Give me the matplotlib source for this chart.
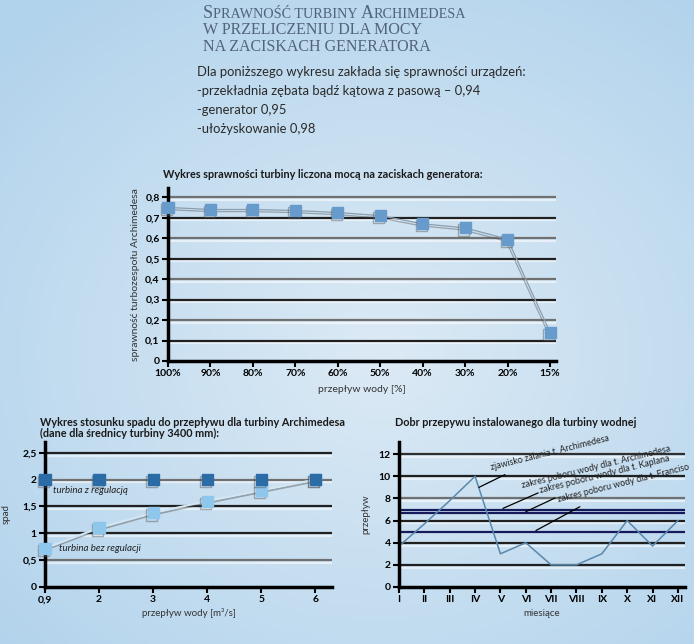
import numpy as np
import matplotlib
matplotlib.use("Agg")
import matplotlib.pyplot as plt
import matplotlib.patheffects as pe
from matplotlib.offsetbox import TextArea, HPacker, AnchoredOffsetbox

# --- dane ---
przeplyw_proc = ["100%", "90%", "80%", "70%", "60%", "50%", "40%", "30%", "20%", "15%"]
sprawnosc = [0.75, 0.74, 0.74, 0.735, 0.725, 0.71, 0.67, 0.65, 0.595, 0.14]
sprawnosc_ticks = [0, 0.1, 0.2, 0.3, 0.4, 0.5, 0.6, 0.7, 0.8]
sprawnosc_labels = ["0", "0,1", "0,2", "0,3", "0,4", "0,5", "0,6", "0,7", "0,8"]

przeplyw_m3 = ["0,9", "2", "3", "4", "5", "6"]
spad_z_regulacja = [2.0, 2.0, 2.0, 2.0, 2.0, 2.0]
spad_bez_regulacji = [0.72, 1.1, 1.38, 1.6, 1.8, 2.0]
spad_ticks = [0, 0.5, 1, 1.5, 2, 2.5]
spad_labels = ["0", "0,5", "1", "1,5", "2", "2,5"]

miesiace = ["I", "II", "III", "IV", "V", "VI", "VII", "VIII", "IX", "X", "XI", "XII"]
przeplyw_mies = [3.7, 5.7, 7.8, 10.0, 3.0, 4.0, 2.0, 2.0, 3.0, 6.0, 3.7, 6.0]
przeplyw_ticks = [0, 2, 4, 6, 8, 10, 12]
zakresy = [7.0, 6.7, 5.0]

SANS = ["Lato", "DejaVu Sans"]
shadow = [pe.SimpleLineShadow(offset=(-1, -1.5), shadow_color="#555555", alpha=0.45), pe.Normal()]
grid_shadow = [pe.SimpleLineShadow(offset=(0, -2), shadow_color="#ffffff", alpha=0.55), pe.Normal()]

fig = plt.figure(figsize=(6.94, 6.44), dpi=100)

# tlo
bg = fig.add_axes([0, 0, 1, 1], zorder=-10)
yy, xx = np.mgrid[0:1:200j, 0:1:200j]
r = np.sqrt(((xx - 0.55) / 0.75) ** 2 + ((yy - 0.55) / 0.7) ** 2)
t = np.clip(r, 0, 1)[..., None]
light = np.array([0xdc, 0xea, 0xf5]) / 255
dark = np.array([0xb2, 0xd3, 0xec]) / 255
bg.imshow(light * (1 - t) + dark * t, aspect="auto", extent=[0, 1, 0, 1])
bg.axis("off")

# tytul (kapitaliki)
def kapitaliki(parts, x, y):
    boxes = [TextArea(s, textprops=dict(size=sz, color="#52647a", family="Liberation Serif"))
             for s, sz in parts]
    pack = HPacker(children=boxes, align="baseline", pad=0, sep=0)
    ab = AnchoredOffsetbox(loc="upper left", child=pack, pad=0, frameon=False,
                           bbox_to_anchor=(x, y), bbox_transform=fig.transFigure, borderpad=0)
    fig.add_artist(ab)

kapitaliki([("S", 13), ("PRAWNOŚĆ TURBINY ", 10.2), ("A", 13), ("RCHIMEDESA", 10.2)], 203 / 694, 1 - 5 / 644)
kapitaliki([("W PRZELICZENIU DLA MOCY", 11.5)], 203 / 694, 1 - 22 / 644)
kapitaliki([("NA ZACISKACH GENERATORA", 11.5)], 203 / 694, 1 - 39 / 644)

opis = ["Dla poniższego wykresu zakłada się sprawności urządzeń:",
        "-przekładnia zębata bądź kątowa z pasową – 0,94",
        "-generator 0,95",
        "-ułożyskowanie 0,98"]
for i, linia in enumerate(opis):
    fig.text(197 / 694, 1 - (72 + 19 * i) / 644, linia, family=SANS, size=9.4,
             color="#2a2a2a", va="center")


def styl_osi(ax):
    ax.set_facecolor("none")
    for s in ["top", "right"]:
        ax.spines[s].set_visible(False)
    for s in ["left", "bottom"]:
        ax.spines[s].set_linewidth(2.5)
        ax.spines[s].set_color("black")
        ax.spines[s].set_zorder(3.5)
    ax.tick_params(length=4, width=1.5, labelsize=7.5, pad=2)
    for lab in ax.get_xticklabels() + ax.get_yticklabels():
        lab.set_fontweight("bold")
        lab.set_family(SANS)


def siatka(ax, poziomy, kolory):
    for v, c in zip(poziomy, kolory):
        ax.axhline(v, color=c, lw=1.6, zorder=1, path_effects=grid_shadow)


# --- wykres 1 ---
ax1 = fig.add_axes([168 / 694, 1 - 361 / 644, 388 / 694, 173 / 644])
x1 = np.arange(len(przeplyw_proc))
siatka(ax1, sprawnosc_ticks[1:], ["#202020" if i % 2 == 0 else "#707070" for i in range(8)])
ax1.plot(x1, sprawnosc, color="#8a9eb2", lw=0.9, zorder=3, path_effects=shadow)
ax1.plot(x1, sprawnosc, "s", color="#679bcb", ms=8, zorder=4, path_effects=shadow, clip_on=False)
ax1.set_xlim(0, 9.14)
ax1.set_ylim(0, 0.845)
ax1.set_xticks(x1, przeplyw_proc)
ax1.set_yticks(sprawnosc_ticks, sprawnosc_labels)
styl_osi(ax1)
ax1.set_xlabel("przepływ wody [%]", family=SANS, size=7.5, color="#333333", labelpad=5)
ax1.set_ylabel("sprawność turbozespołu Archimedesa", family=SANS, size=7.5, color="#333333", labelpad=4)
fig.text(163 / 694, 1 - 175 / 644, "Wykres sprawności turbiny liczona mocą na zaciskach generatora:",
         family=SANS, weight="bold", size=7.8, color="#1a1a1a", va="center")

# --- wykres 2 ---
ax2 = fig.add_axes([45 / 694, 1 - 587 / 644, 287 / 694, 145 / 644])
x2 = np.arange(len(przeplyw_m3))
siatka(ax2, spad_ticks[1:], ["#707070", "#202020", "#202020", "#707070", "#202020"])
ax2.plot(x2, spad_bez_regulacji, color="#d2e6f4", lw=1.5, zorder=3, path_effects=shadow)
ax2.plot(x2, spad_bez_regulacji, "s", color="#8fc6ec", ms=8, zorder=4, path_effects=shadow, clip_on=False)
ax2.plot(x2, spad_z_regulacja, "s", color="#2c6ca6", ms=8, zorder=4, path_effects=shadow, clip_on=False)
ax2.set_xlim(0, 5.31)
ax2.set_ylim(0, 2.7)
ax2.set_xticks(x2, przeplyw_m3)
ax2.set_yticks(spad_ticks, spad_labels)
styl_osi(ax2)
ax2.set_xlabel("przepływ wody [m³/s]", family=SANS, size=7, color="#333333", labelpad=3)
ax2.set_ylabel("spad", family=SANS, size=7, color="#333333", labelpad=8)
ax2.text(0.15, 1.8, "turbina z regulacją", family=SANS, style="italic", size=7, color="#222222", va="center")
ax2.text(0.25, 0.72, "turbina bez regulacji", family=SANS, style="italic", size=7, color="#222222", va="center")
fig.text(40 / 694, 1 - 428 / 644, "Wykres stosunku spadu do przepływu dla turbiny Archimedesa\n(dane dla średnicy turbiny 3400 mm):",
         family=SANS, weight="bold", size=7.8, color="#1a1a1a", va="center", linespacing=1.0)

# --- wykres 3 ---
ax3 = fig.add_axes([399 / 694, 1 - 587 / 644, 286 / 694, 145 / 644])
x3 = np.arange(len(miesiace))
siatka(ax3, przeplyw_ticks[1:], ["#202020", "#202020", "#202020", "#707070", "#202020", "#303030"])
for z in zakresy:
    ax3.axhline(z, color="#16195a", lw=1.6, zorder=2)
ax3.plot(x3, przeplyw_mies, color="#5a88ad", lw=1.1, zorder=3)
ax3.set_xlim(0, 11.28)
ax3.set_ylim(0, 13.1)
ax3.set_xticks(x3, miesiace)
ax3.set_yticks(przeplyw_ticks)
styl_osi(ax3)
ax3.set_xlabel("miesiące", family=SANS, size=7, color="#333333", labelpad=3)
ax3.set_ylabel("przepływ", family=SANS, size=7, color="#333333", labelpad=6)

opisy = ["zjawisko zalania t. Archimedesa",
         "zakres poboru wody dla t. Archimedesa",
         "zakres poboru wody dla t. Kaplana",
         "zakres poboru wody dla t. Franciso"]
start = [(3.15, 9.0), (4.1, 7.1), (5.0, 6.8), (5.4, 5.1)]
koniec = [(3.66, 10.4), (4.9, 8.75), (5.6, 8.3), (6.3, 7.5)]
for txt, p0, p1 in zip(opisy, start, koniec):
    ax3.annotate(txt, xy=p0, xytext=p1, family=SANS, size=6.4, color="#222222",
                 rotation=14, rotation_mode="anchor", ha="left", va="bottom",
                 arrowprops=dict(arrowstyle="-", color="black", lw=0.9, shrinkA=0, shrinkB=0))
fig.text(395 / 694, 1 - 422 / 644, "Dobr przepywu instalowanego dla turbiny wodnej",
         family=SANS, weight="bold", size=7.8, color="#1a1a1a", va="center")

fig.savefig("out.png", dpi=100)
